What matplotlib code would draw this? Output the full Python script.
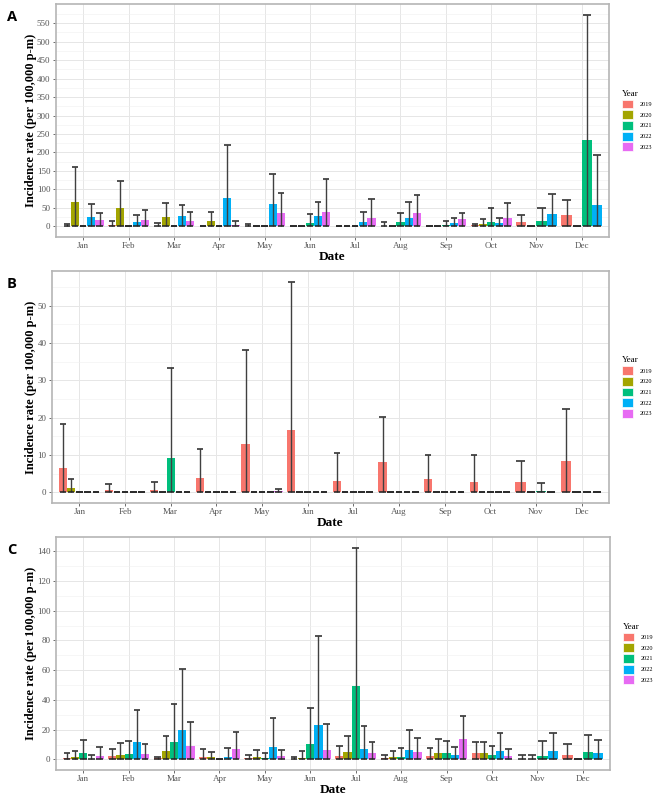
import numpy as np
import matplotlib
matplotlib.use('Agg')
import matplotlib.pyplot as plt
from matplotlib.patches import Patch

nan = np.nan

months = ['Jan', 'Feb', 'Mar', 'Apr', 'May', 'Jun',
          'Jul', 'Aug', 'Sep', 'Oct', 'Nov', 'Dec']
years = ['2019', '2020', '2021', '2022', '2023']
colors = ['#F8766D', '#A3A500', '#00BF7D', '#00B0F6', '#E76BF3']

# Panel A - rate and upper CI (rows = years, cols = months)
a_rate = [
    [2, 3, 2, 0, 1, 0, 0, 2, 0, 3, 13, 30],
    [67, 51, 25, 14, 0, 0, 0, 0, 0, 7, 0, 0],
    [0, 0, 0, 0, 0, 8, 0, 12, 4, 13, 15, 234],
    [25, 12, 29, 78, 60, 27, 13, 22, 8, 9, 34, 59],
    [17, 18, 14, 5, 37, 39, 24, 36, 19, 22, nan, nan],
]
a_upper = [
    [7, 15, 8, 0, 6, 0, 0, 11, 0, 7, 31, 71],
    [160, 123, 63, 38, 0, 0, 0, 0, 0, 19, 0, 0],
    [0, 0, 0, 0, 0, 33, 0, 37, 15, 49, 50, 573],
    [60, 32, 59, 220, 142, 65, 40, 67, 23, 24, 88, 193],
    [35, 44, 39, 15, 91, 127, 73, 84, 37, 62, nan, nan],
]
a_ticks = [0, 50, 100, 150, 200, 250, 300, 350, 400, 450, 500, 550]

# Panel B
b_rate = [
    [6.6, 0.6, 0.7, 4.0, 12.9, 16.6, 3.2, 8.2, 3.5, 2.9, 2.7, 8.4],
    [1.1, 0, 0, 0, 0, 0, 0, 0, 0, 0, 0, 0],
    [0, 0, 9.1, 0, 0, 0, 0, 0, 0, 0, 0.4, 0],
    [0, 0, 0, 0, 0, 0, 0, 0, 0, 0, 0, 0],
    [0, 0, 0, 0, 0.3, 0, 0, 0, 0, 0, nan, nan],
]
b_upper = [
    [18.4, 2.2, 2.8, 11.6, 38.2, 56.5, 10.5, 20.1, 9.9, 9.9, 8.3, 22.3],
    [3.7, 0, 0, 0, 0, 0, 0, 0, 0, 0, 0, 0],
    [0, 0, 33.4, 0, 0, 0, 0, 0, 0, 0, 2.5, 0],
    [0, 0, 0, 0, 0, 0, 0, 0, 0, 0, 0, 0],
    [0, 0, 0, 0, 0.9, 0, 0, 0, 0, 0, nan, nan],
]
b_ticks = [0, 10, 20, 30, 40, 50]

# Panel C
c_rate = [
    [1.1, 2.2, 0.7, 1.8, 0.9, 0.4, 2.5, 0.7, 2.5, 4.0, 0.4, 2.7],
    [1.3, 3.1, 5.4, 1.3, 1.3, 1.1, 4.7, 1.6, 4.0, 4.0, 0.4, 0],
    [4.3, 3.6, 11.9, 0, 0.7, 10.3, 49.7, 1.6, 4.0, 2.7, 2.5, 5.2],
    [0.2, 11.4, 19.5, 1.8, 8.3, 23.3, 7.2, 6.0, 3.1, 5.4, 5.4, 4.0],
    [2.5, 3.8, 9.0, 7.2, 2.0, 6.5, 4.5, 4.9, 13.4, 2.5, nan, nan],
]
c_upper = [
    [4.5, 7.2, 1.8, 6.7, 2.7, 1.8, 8.7, 2.7, 7.6, 11.6, 2.7, 10.3],
    [5.8, 11.0, 15.7, 4.9, 6.0, 5.4, 15.5, 5.4, 13.9, 11.6, 2.7, 0],
    [12.8, 12.5, 37.2, 0, 4.3, 34.5, 142.5, 7.6, 12.5, 9.0, 12.5, 16.4],
    [2.9, 33.0, 60.5, 7.4, 27.8, 82.7, 22.2, 19.5, 8.3, 18.1, 17.7, 12.8],
    [8.1, 10.3, 25.3, 18.4, 6.0, 23.7, 11.6, 14.1, 28.9, 6.7, nan, nan],
]
c_ticks = [0, 20, 40, 60, 80, 100, 120, 140]

plt.rcParams['font.family'] = ['Liberation Serif', 'DejaVu Serif']

W, H = 657, 800
fig = plt.figure(figsize=(W / 100, H / 100), dpi=100)


def draw_panel(rect, letter, rate, upper, yticks):
    l, t, r, b = rect
    ax = fig.add_axes([l / W, 1 - b / H, (r - l) / W, (b - t) / H])
    rate = np.array(rate, dtype=float)
    upper = np.array(upper, dtype=float)
    x = np.arange(1, 13)
    for m in range(12):
        present = [k for k in range(5) if not np.isnan(rate[k, m])]
        w = 0.9 / len(present)
        for i, k in enumerate(present):
            xc = x[m] - 0.45 + w * (i + 0.5)
            ax.bar(xc, rate[k, m], width=w, color=colors[k], linewidth=0, zorder=2)
            cw = 0.4 * w
            ax.vlines(xc, 0, upper[k, m], color='#404040', lw=1.0, zorder=3)
            ax.hlines([0, upper[k, m]], xc - cw, xc + cw, color='#222222', lw=1.1, zorder=3)

    top = np.nanmax(upper)
    ax.set_xlim(0.4, 12.6)
    ax.set_ylim(-0.05 * top, 1.05 * top)
    ax.set_xticks(x)
    ax.set_xticklabels(months)
    ax.set_yticks(yticks)
    step = yticks[1] - yticks[0]
    ax.set_yticks(np.arange(step / 2, 1.05 * top, step), minor=True)
    ax.grid(True, which='major', color='#e6e6e6', lw=0.7, zorder=0)
    ax.grid(True, which='minor', axis='y', color='#f0f0f0', lw=0.4, zorder=0)
    ax.set_axisbelow(True)
    ax.tick_params(which='major', length=2, width=0.6, color='#555555',
                   labelsize=6.5, labelcolor='#555555')
    ax.tick_params(axis='x', pad=1.5)
    ax.tick_params(axis='y', pad=2)
    ax.tick_params(which='minor', length=0)
    for s in ax.spines.values():
        s.set_color('#b5b5b5')
        s.set_linewidth(1.2)

    ax.set_ylabel('Incidence rate (per 100,000 p-m)', fontsize=9, fontweight='bold')
    ax.yaxis.set_label_coords((37 - l) / (r - l), 0.5)
    ax.set_xlabel('Date', fontsize=9.5, fontweight='bold')
    ax.xaxis.set_label_coords(0.5, -14 / (b - t))

    handles = [Patch(facecolor=c, edgecolor='white', linewidth=0.5) for c in colors]
    ax.legend(handles, years, title='Year', loc='center left',
              bbox_to_anchor=(1 + 13 / (r - l), 0.5), frameon=False,
              fontsize=4.5, title_fontsize=6.5, handlelength=1.8, handleheight=1.8,
              labelspacing=0.3, handletextpad=1.0, borderpad=0, borderaxespad=0,
              alignment='left')

    fig.text(12 / W, 1 - (t + 13) / H, letter, fontsize=10.5, fontweight='bold',
             family='Open Sans', ha='center', va='center')
    return ax


draw_panel((56, 4, 609, 237), 'A', a_rate, a_upper, a_ticks)
draw_panel((52, 271, 609, 503), 'B', b_rate, b_upper, b_ticks)
draw_panel((56, 537, 610, 770), 'C', c_rate, c_upper, c_ticks)

fig.savefig('out.png', dpi=100)
